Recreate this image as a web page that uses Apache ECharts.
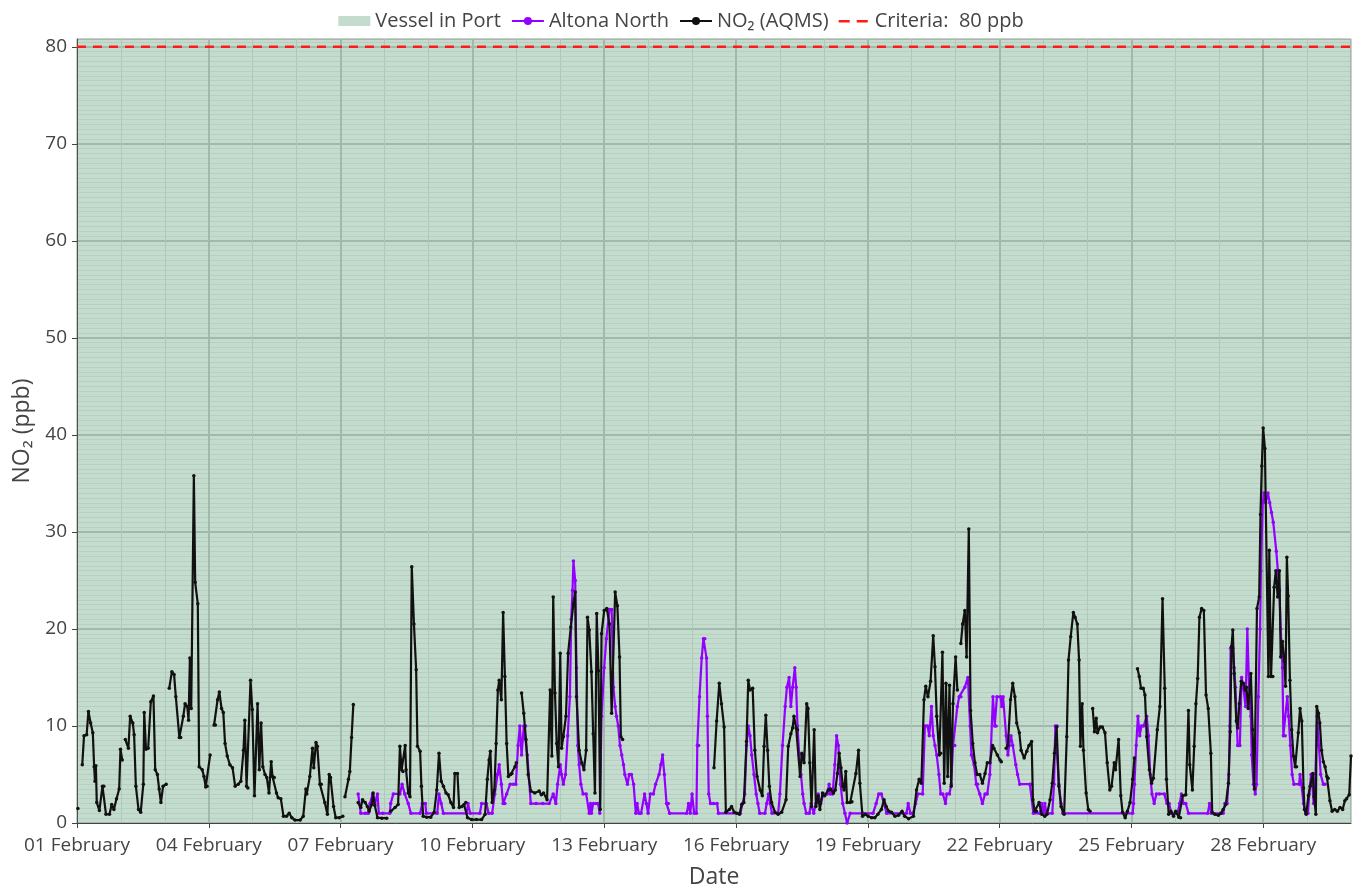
<!DOCTYPE html>
<html>
<head>
<meta charset="utf-8">
<title>NO2 - Altona North</title>
<script src="https://cdn.jsdelivr.net/npm/echarts@6/dist/echarts.min.js"></script>
<style>
  html, body { margin: 0; padding: 0; background: #fff; }
  #chart { width: 1362px; height: 894px; }
</style>
</head>
<body>
<div id="chart"></div>
<script>
// x values are day offsets from 01 February 00:00
const dateLabels = ['01 February', '04 February', '07 February', '10 February', '13 February',
  '16 February', '19 February', '22 February', '25 February', '28 February']
const dayRange = [0, 29]
const vesselInPort = [[0, 29]]
const criteria = 80

// NO2 (AQMS), null breaks the line where data is missing
const aqmsNO2 = [
  [0.02, 1.5], [0.06, null],
  [0.12, 6.0], [0.16, 9.0], [0.22, 9.1], [0.26, 11.5], [0.31, 10.3], [0.36, 9.3], [0.39, 5.8], [0.41, 4.3], [0.43, 5.9],
  [0.45, 2.1], [0.51, 1.3], [0.58, 3.8], [0.61, 3.8], [0.66, 0.9], [0.74, 0.9], [0.79, 1.9], [0.84, 1.4], [0.90, 2.5],
  [0.96, 3.5], [0.99, 7.6], [1.03, 6.5], [1.06, null],
  [1.10, 8.6], [1.17, 7.7], [1.21, 11.0], [1.27, 10.3], [1.30, 9.1], [1.34, 3.8], [1.40, 1.4], [1.45, 1.1], [1.51, 4.0],
  [1.53, 11.4], [1.57, 7.6], [1.62, 7.7], [1.68, 12.5], [1.74, 13.1], [1.78, 5.5], [1.83, 5.0], [1.87, 3.5], [1.91, 2.1],
  [1.96, 3.8], [2.03, 4.0], [2.06, null],
  [2.10, 13.9], [2.16, 15.6], [2.21, 15.3], [2.25, 13.0], [2.33, 8.8], [2.36, 8.8], [2.42, 11.0], [2.46, 12.3], [2.51, 12.0],
  [2.54, 10.6], [2.57, 17.0], [2.60, 11.8], [2.66, 35.8], [2.69, 24.8], [2.75, 22.6], [2.78, 5.8], [2.85, 5.5], [2.89, 4.8],
  [2.93, 3.7], [2.96, 3.8], [3.03, 7.0], [3.07, null],
  [3.12, 10.1], [3.15, 10.1], [3.20, 12.7], [3.24, 13.5], [3.29, 11.8], [3.33, 11.4], [3.37, 8.2], [3.42, 6.9], [3.48, 6.0],
  [3.54, 5.7], [3.60, 3.8], [3.67, 4.0], [3.73, 4.3], [3.79, 7.5], [3.82, 10.6], [3.86, 3.8], [3.89, 3.6], [3.95, 14.7],
  [3.99, 11.7], [4.04, 2.8], [4.11, 12.3], [4.15, 5.5], [4.19, 10.3], [4.23, 5.8], [4.28, 5.0], [4.32, 4.7], [4.37, 3.1],
  [4.42, 6.3], [4.45, 4.8], [4.49, 4.7], [4.54, 3.1], [4.58, 2.6], [4.64, 2.5], [4.70, 0.7], [4.77, 0.7], [4.83, 1.0],
  [4.89, 0.55], [4.96, 0.3], [5.08, 0.3], [5.15, 0.7], [5.21, 3.5], [5.23, 3.0], [5.30, 4.8], [5.36, 7.7], [5.39, 5.7],
  [5.44, 8.3], [5.47, 7.9], [5.53, 4.0], [5.56, 4.0], [5.64, 2.1], [5.70, 0.9], [5.74, 5.0], [5.77, 4.7], [5.84, 1.7],
  [5.89, 0.55], [5.97, 0.55], [6.05, 0.7], [6.08, null],
  [6.10, 2.7], [6.18, 4.5], [6.21, 5.3], [6.25, 8.8], [6.29, 12.2], [6.33, null],
  [6.40, 2.1], [6.46, 1.6], [6.50, 2.4], [6.56, 2.1], [6.61, 1.7], [6.65, 1.2], [6.71, 1.9], [6.74, 3.1], [6.78, 1.8],
  [6.84, 0.55], [6.94, 0.5], [7.05, 0.5], [7.09, null],
  [7.14, 1.2], [7.24, 1.6], [7.31, 1.9], [7.35, 7.9], [7.39, 5.5], [7.42, 5.3], [7.47, 8.0], [7.49, 5.5], [7.54, 3.1],
  [7.58, 2.7], [7.62, 26.4], [7.67, 20.5], [7.72, 15.8], [7.75, 7.9], [7.81, 7.4], [7.84, 3.8], [7.88, 0.7], [7.96, 0.6],
  [8.05, 0.6], [8.13, 1.1], [8.19, 3.4], [8.24, 7.2], [8.29, 4.3], [8.34, 3.8], [8.40, 3.1], [8.45, 2.9], [8.51, 2.1],
  [8.57, 1.6], [8.60, 5.1], [8.66, 5.1], [8.70, 1.6], [8.76, 1.7], [8.81, 1.9], [8.85, 2.1], [8.89, 0.55], [8.98, 0.35],
  [9.09, 0.35], [9.21, 0.35], [9.29, 0.9], [9.34, 4.5], [9.38, 6.5], [9.41, 7.4], [9.45, 2.1], [9.50, 3.4], [9.54, 8.2],
  [9.58, 13.7], [9.61, 14.7], [9.66, 12.7], [9.70, 21.7], [9.74, 15.1], [9.78, 8.2], [9.82, 4.8], [9.87, 5.0], [9.90, 5.1],
  [9.97, 5.8], [10.0, 6.2], [10.06, null],
  [10.12, 13.4], [10.17, 11.3], [10.22, 8.6], [10.27, 5.0], [10.33, 3.3], [10.42, 3.1], [10.52, 3.3], [10.57, 2.9],
  [10.62, 3.1], [10.70, 2.4], [10.77, 13.7], [10.81, 6.9], [10.84, 23.3], [10.88, 13.4], [10.92, 8.2], [10.96, 5.8],
  [11.0, 17.5], [11.03, 7.7], [11.07, 8.9], [11.13, 11.0], [11.18, 17.5], [11.24, 20.2], [11.30, 22.6], [11.34, 23.8],
  [11.37, 13.0], [11.43, 7.5], [11.49, 6.2], [11.54, 5.5], [11.59, 7.5], [11.62, 21.2], [11.66, 19.9], [11.71, 15.6],
  [11.75, 9.2], [11.79, 3.1], [11.83, 21.6], [11.87, 15.7], [11.91, 1.4], [11.94, 19.5], [12.0, 21.9], [12.06, 22.1],
  [12.12, 20.5], [12.17, 11.3], [12.25, 23.8], [12.30, 22.4], [12.35, 17.1], [12.38, 8.9], [12.42, 8.6], [12.46, null],
  [14.50, 5.7], [14.56, 10.5], [14.62, 14.4], [14.67, 12.3], [14.73, 9.9], [14.77, 1.1], [14.85, 1.4], [14.90, 1.7],
  [14.96, 1.1], [15.02, 1.0], [15.08, 0.9], [15.13, 1.9], [15.18, 2.1], [15.24, 8.4], [15.28, 14.7], [15.32, 13.7],
  [15.38, 13.9], [15.43, 7.5], [15.48, 4.8], [15.55, 3.4], [15.60, 2.8], [15.64, 7.9], [15.68, 11.1], [15.72, 7.5],
  [15.76, 3.8], [15.81, 2.1], [15.89, 1.1], [15.96, 0.9], [16.04, 1.1], [16.14, 2.4], [16.19, 7.9], [16.25, 9.2],
  [16.29, 9.8], [16.32, 11.0], [16.37, 9.8], [16.40, 9.6], [16.46, 4.8], [16.50, 7.2], [16.55, 6.2], [16.61, 12.3],
  [16.64, 11.8], [16.68, 6.2], [16.72, 1.7], [16.78, 9.6], [16.82, 1.7], [16.87, 2.8], [16.91, 1.4], [16.97, 3.1],
  [17.02, 2.8], [17.10, 3.4], [17.15, 3.5], [17.22, 3.1], [17.26, 3.4], [17.31, 5.1], [17.35, 7.2], [17.39, 5.7],
  [17.43, 3.8], [17.46, 3.4], [17.50, 5.3], [17.53, 2.1], [17.60, 2.1], [17.64, 2.2], [17.73, 5.1], [17.79, 7.5],
  [17.82, 4.1], [17.88, 0.7], [17.95, 0.9], [18.01, 0.7], [18.09, 0.55], [18.16, 0.55], [18.23, 0.9], [18.31, 1.4],
  [18.37, 2.4], [18.42, 1.7], [18.48, 1.2], [18.54, 1.1], [18.62, 0.7], [18.70, 0.8], [18.78, 1.2], [18.84, 0.7],
  [18.93, 0.45], [19.04, 0.7], [19.11, 3.4], [19.17, 4.5], [19.22, 4.1], [19.28, 12.7], [19.32, 14.1], [19.37, 13.0],
  [19.43, 14.6], [19.49, 19.3], [19.53, 16.1], [19.57, 11.0], [19.63, 7.0], [19.66, 7.2], [19.70, 17.6], [19.74, 4.1],
  [19.78, 14.4], [19.82, 4.8], [19.86, 14.2], [19.90, 3.8], [19.94, 12.3], [20.0, 17.1], [20.04, 13.7], [20.08, null],
  [20.12, 18.5], [20.16, 20.5], [20.21, 21.9], [20.25, 17.1], [20.30, 30.3], [20.34, 11.6], [20.39, 8.2], [20.44, 6.2],
  [20.49, 5.0], [20.55, 5.0], [20.61, 4.1], [20.67, 5.1], [20.72, 6.2], [20.78, 6.2], [20.84, 8.0], [20.87, 7.7],
  [20.95, 7.0], [21.01, 6.5], [21.04, 6.3], [21.10, null],
  [21.15, 7.7], [21.19, 8.0], [21.25, 12.7], [21.30, 14.4], [21.35, 13.0], [21.39, 10.3], [21.45, 9.3], [21.49, 7.5],
  [21.56, 6.7], [21.62, 7.4], [21.67, 8.0], [21.73, 8.4], [21.76, 2.4], [21.80, 1.2], [21.84, 1.2], [21.90, 2.1],
  [21.96, 0.9], [22.03, 0.7], [22.08, 0.9], [22.15, 2.4], [22.20, 4.1], [22.25, 7.2], [22.30, 9.9], [22.35, 3.8],
  [22.40, 1.7], [22.47, 0.9], [22.53, 8.9], [22.57, 16.8], [22.62, 19.2], [22.68, 21.7], [22.72, 21.2], [22.77, 20.5],
  [22.81, 16.8], [22.84, 7.9], [22.88, 12.3], [22.91, 7.5], [22.97, 3.1], [23.02, 1.4], [23.06, 1.2], [23.09, null],
  [23.12, 11.8], [23.16, 9.4], [23.20, 10.8], [23.23, 9.3], [23.29, 9.9], [23.34, 9.9], [23.40, 9.3], [23.45, 6.2],
  [23.51, 3.4], [23.55, 3.8], [23.61, 6.2], [23.64, 5.5], [23.71, 8.6], [23.76, 2.8], [23.80, 1.1], [23.86, 0.55],
  [23.91, 1.2], [23.97, 2.1], [24.03, 4.5], [24.07, 6.7], [24.10, null],
  [24.14, 15.9], [24.18, 15.1], [24.22, 13.9], [24.27, 13.9], [24.31, 13.2], [24.35, 8.9], [24.41, 5.5], [24.46, 4.1],
  [24.50, 4.6], [24.59, 9.6], [24.65, 12.0], [24.71, 23.1], [24.76, 13.9], [24.80, 4.5], [24.85, 0.9], [24.90, 1.2],
  [24.96, 0.7], [25.01, 1.2], [25.08, 0.6], [25.12, 0.55], [25.17, 2.8], [25.24, 2.9], [25.30, 11.6], [25.33, 6.0],
  [25.39, 3.4], [25.43, 7.9], [25.47, 12.3], [25.51, 14.9], [25.55, 21.2], [25.60, 22.1], [25.65, 21.9], [25.70, 13.2],
  [25.75, 11.8], [25.81, 7.2], [25.84, 1.1], [25.90, 0.9], [25.98, 0.8], [26.04, 1.0], [26.09, 1.4], [26.15, 1.9],
  [26.21, 4.1], [26.25, 9.4], [26.28, 18.2], [26.31, 19.9], [26.34, 15.4], [26.39, 10.5], [26.42, 9.8], [26.46, 12.3],
  [26.50, 14.6], [26.55, 14.4], [26.59, 13.7], [26.62, 14.0], [26.66, 11.8], [26.72, 15.4], [26.76, 9.6], [26.80, 3.5],
  [26.86, 22.1], [26.91, 23.3], [26.94, 31.8], [26.97, 36.8], [27.00, 40.7], [27.04, 38.6], [27.12, 15.1], [27.14, 28.1],
  [27.18, 15.1], [27.22, 15.1], [27.25, 24.3], [27.29, 26.0], [27.33, 23.3], [27.37, 26.0], [27.40, 17.1], [27.44, 18.7],
  [27.48, 16.7], [27.51, 14.1], [27.54, 27.4], [27.57, 23.4], [27.61, 14.7], [27.65, 9.6], [27.69, 6.9], [27.73, 5.8],
  [27.76, 5.8], [27.80, 9.3], [27.84, 11.8], [27.88, 10.5], [27.92, 3.6], [27.94, 1.4], [27.98, 0.9], [28.03, 2.8],
  [28.07, 3.8], [28.13, 5.1], [28.16, 2.7], [28.20, 0.9], [28.22, 12.0], [28.26, 11.3], [28.29, 10.3], [28.33, 7.5],
  [28.37, 6.3], [28.41, 5.8], [28.45, 4.8], [28.48, 4.6], [28.52, 2.3], [28.57, 1.2], [28.63, 1.4], [28.69, 1.2],
  [28.75, 1.6], [28.81, 1.4], [28.86, 2.3], [28.90, 2.5], [28.96, 2.9], [29.0, 6.9]
]

// Altona North sensor
const altonaNorth = [
  [6.40, 3], [6.46, 1], [6.56, 1], [6.63, 1], [6.67, 2], [6.73, 3], [6.78, 2], [6.84, 3], [6.87, 1], [6.96, 1], [7.12, 1],
  [7.14, 2], [7.20, 3], [7.35, 3], [7.40, 4], [7.46, 3], [7.54, 2], [7.60, 1], [7.81, 1], [7.86, 2], [7.93, 2], [7.95, 1],
  [8.20, 1], [8.24, 3], [8.29, 2], [8.34, 1], [8.87, 1], [8.90, 2], [8.95, 1], [9.17, 1], [9.21, 2], [9.32, 2], [9.37, 1],
  [9.45, 1], [9.51, 3], [9.57, 5], [9.61, 6], [9.66, 4], [9.70, 2], [9.74, 2], [9.78, 3], [9.86, 4], [9.93, 4], [9.99, 4],
  [10.04, 8], [10.08, 10], [10.12, 7], [10.17, 10], [10.21, 10], [10.25, 7], [10.33, 2], [10.45, 2], [10.60, 2],
  [10.75, 2], [10.84, 3], [10.90, 2], [10.94, 4], [11.0, 6], [11.03, 5], [11.07, 4], [11.12, 5], [11.17, 9], [11.22, 13],
  [11.25, 21], [11.28, 24], [11.30, 27], [11.34, 25], [11.37, 16], [11.40, 8], [11.43, 6], [11.47, 4], [11.52, 3],
  [11.59, 3], [11.66, 1], [11.69, 2], [11.71, 1], [11.75, 2], [11.81, 2], [11.86, 2], [11.90, 1], [11.94, 11], [12.0, 16],
  [12.05, 19], [12.12, 22], [12.17, 22], [12.21, 14], [12.25, 12], [12.28, 11], [12.32, 10], [12.36, 8], [12.40, 7],
  [12.44, 6], [12.47, 5], [12.53, 4], [12.57, 5], [12.62, 5], [12.67, 4], [12.72, 1], [12.75, 2], [12.79, 1], [12.84, 1],
  [12.92, 3], [12.96, 2], [13.0, 1], [13.05, 3], [13.12, 3], [13.17, 4], [13.25, 5], [13.29, 6], [13.33, 7], [13.37, 5],
  [13.42, 2], [13.46, 2], [13.49, 1], [13.88, 1], [13.92, 2], [13.96, 1], [14.0, 3], [14.05, 1], [14.10, 1], [14.12, 8],
  [14.15, 8], [14.17, 13], [14.22, 17], [14.26, 19], [14.29, 19], [14.33, 17], [14.35, 11], [14.38, 3], [14.42, 2],
  [14.49, 2], [14.57, 2], [14.60, 1], [15.10, 1], [15.15, 2], [15.20, 3], [15.24, 8], [15.28, 10], [15.32, 9], [15.36, 7],
  [15.41, 5], [15.46, 3], [15.50, 2], [15.54, 1], [15.66, 1], [15.70, 2], [15.74, 3], [15.78, 2], [15.82, 1], [15.96, 1],
  [16.0, 3], [16.06, 8], [16.12, 12], [16.16, 14], [16.21, 15], [16.25, 12], [16.29, 14], [16.34, 16], [16.37, 14],
  [16.40, 10], [16.44, 7], [16.48, 5], [16.52, 3], [16.55, 2], [16.60, 1], [16.67, 1], [16.71, 2], [16.77, 1], [16.82, 2],
  [16.87, 3], [16.93, 2], [16.99, 3], [17.08, 3], [17.12, 4], [17.15, 3], [17.20, 3], [17.25, 6], [17.29, 9], [17.33, 8],
  [17.38, 4], [17.43, 2], [17.48, 1], [17.53, 0], [17.60, 1], [17.90, 1], [18.12, 1], [18.19, 2], [18.25, 3], [18.31, 3],
  [18.37, 2], [18.43, 1], [18.88, 1], [18.92, 2], [18.97, 1], [19.03, 1], [19.09, 2], [19.14, 3], [19.25, 3], [19.30, 10],
  [19.36, 10], [19.40, 9], [19.45, 12], [19.49, 9], [19.53, 8], [19.57, 7], [19.62, 5], [19.66, 3], [19.71, 3], [19.77, 2],
  [19.80, 3], [19.86, 3], [19.90, 4], [19.94, 8], [19.98, 8], [20.04, 12], [20.08, 13], [20.12, 13], [20.21, 14],
  [20.28, 15], [20.33, 10], [20.36, 7], [20.42, 6], [20.47, 4], [20.50, 4], [20.55, 3], [20.61, 2], [20.67, 3], [20.72, 3],
  [20.78, 5], [20.85, 13], [20.89, 10], [20.92, 10], [20.94, 13], [21.02, 13], [21.05, 12], [21.08, 13], [21.15, 9],
  [21.19, 7], [21.22, 8], [21.26, 9], [21.30, 8], [21.37, 6], [21.41, 5], [21.46, 4], [21.69, 4], [21.73, 4], [21.77, 1],
  [21.92, 1], [21.96, 2], [22.0, 1], [22.03, 2], [22.07, 1], [22.20, 1], [22.24, 4], [22.27, 10], [22.31, 10], [22.35, 4],
  [22.40, 2], [22.44, 1], [24.03, 1], [24.05, 2], [24.07, 4], [24.11, 8], [24.15, 11], [24.19, 9], [24.23, 10], [24.28, 10],
  [24.35, 11], [24.39, 9], [24.43, 5], [24.47, 3], [24.52, 2], [24.57, 3], [24.64, 3], [24.75, 3], [24.81, 2], [24.86, 2],
  [24.91, 1], [25.05, 1], [25.10, 2], [25.14, 3], [25.19, 2], [25.24, 2], [25.30, 1], [25.74, 1], [25.78, 2], [25.82, 1],
  [26.09, 1], [26.13, 2], [26.18, 2], [26.22, 5], [26.24, 10], [26.26, 18], [26.31, 18], [26.34, 16], [26.37, 14],
  [26.42, 8], [26.47, 8], [26.51, 15], [26.55, 14], [26.60, 12], [26.64, 20], [26.68, 14], [26.72, 11], [26.74, 7],
  [26.78, 4], [26.82, 3], [26.85, 4], [26.89, 13], [26.93, 20], [26.95, 26], [26.99, 33], [27.02, 34], [27.06, 33],
  [27.11, 34], [27.15, 33], [27.19, 32], [27.23, 31], [27.30, 28], [27.37, 24], [27.40, 20], [27.44, 16], [27.46, 9],
  [27.50, 9], [27.55, 13], [27.58, 11], [27.62, 8], [27.66, 5], [27.70, 4], [27.82, 4], [27.84, 5], [27.87, 4], [27.92, 2],
  [27.97, 1], [28.02, 1], [28.05, 3], [28.09, 5], [28.12, 4], [28.15, 2], [28.19, 5], [28.23, 11], [28.27, 8], [28.31, 5],
  [28.37, 4], [28.41, 4]
]

const textColor = '#444'
const font = '"Open Sans", Verdana, Arial, sans-serif'
// two red dashes for the criteria legend entry
const dashIcon = 'path://M0,0L0,0M0,4L11,4L11,6.4L0,6.4ZM18,4L29,4L29,6.4L18,6.4ZM30,10L30,10'

const chart = echarts.init(document.getElementById('chart'), null, { renderer: 'canvas' })

chart.setOption({
  animation: false,
  backgroundColor: '#fff',
  textStyle: { fontFamily: font },
  legend: {
    top: 6,
    left: 'center',
    itemWidth: 32,
    itemHeight: 10,
    itemGap: 10,
    textStyle: { fontSize: 20, color: textColor, fontFamily: font },
    data: [
      { name: 'Vessel in Port', icon: 'rect' },
      { name: 'Altona North' },
      { name: 'NO₂ (AQMS)' },
      { name: 'Criteria:  80 ppb', icon: dashIcon }
    ]
  },
  grid: {
    left: 77,
    right: 11,
    top: 39,
    bottom: 67
  },
  xAxis: {
    type: 'value',
    min: dayRange[0],
    max: dayRange[1],
    interval: 3,
    name: 'Date',
    nameLocation: 'middle',
    nameGap: 43,
    nameTextStyle: { fontSize: 23, color: textColor, fontFamily: font },
    axisLine: { show: true, onZero: false, lineStyle: { color: '#444', width: 1 } },
    axisTick: { show: true, length: 5, lineStyle: { color: '#444' } },
    axisLabel: {
      fontSize: 19,
      color: textColor,
      margin: 13,
      showMaxLabel: false,
      formatter: v => dateLabels[Math.round(v / 3)] || ''
    },
    splitLine: { show: true, lineStyle: { color: '#cdcdcd', width: 2 } },
    minorTick: { show: false, splitNumber: 3 },
    minorSplitLine: { show: true, lineStyle: { color: '#e2e2e2', width: 1 } }
  },
  yAxis: {
    type: 'value',
    min: 0,
    max: 80.8,
    interval: 10,
    name: 'NO₂ (ppb)',
    nameLocation: 'middle',
    nameGap: 39,
    nameTextStyle: { fontSize: 23, color: textColor, fontFamily: font },
    axisLine: { show: true, lineStyle: { color: '#444', width: 1 } },
    axisTick: { show: true, length: 5, lineStyle: { color: '#444' } },
    axisLabel: { fontSize: 19, color: textColor, margin: 10, showMaxLabel: false },
    splitLine: { show: true, lineStyle: { color: '#cdcdcd', width: 2 } },
    minorTick: { show: false, splitNumber: 20 },
    minorSplitLine: { show: true, lineStyle: { color: '#ececec', width: 1 } }
  },
  series: [
    {
      name: 'Vessel in Port',
      type: 'line',
      data: [],
      color: 'rgba(60,140,90,0.3)',
      z: 1,
      markArea: {
        silent: true,
        itemStyle: { color: 'rgba(60,140,90,0.3)' },
        data: vesselInPort.map(p => [{ xAxis: p[0] }, { xAxis: p[1] }])
      }
    },
    {
      name: 'Altona North',
      type: 'line',
      data: altonaNorth,
      color: '#9400ff',
      symbol: 'circle',
      symbolSize: 3.5,
      showSymbol: true,
      lineStyle: { width: 2.2, color: '#9400ff' },
      z: 3
    },
    {
      name: 'NO₂ (AQMS)',
      type: 'line',
      data: aqmsNO2,
      color: '#111',
      symbol: 'circle',
      symbolSize: 3.5,
      showSymbol: true,
      connectNulls: false,
      lineStyle: { width: 2.2, color: '#111' },
      z: 4
    },
    {
      name: 'Criteria:  80 ppb',
      type: 'line',
      data: dayRange.map(d => [d, criteria]),
      color: '#ff1a1a',
      symbol: 'none',
      lineStyle: { width: 2.5, type: [9, 7], color: '#ff1a1a' },
      z: 5
    }
  ]
})
</script>
</body>
</html>
